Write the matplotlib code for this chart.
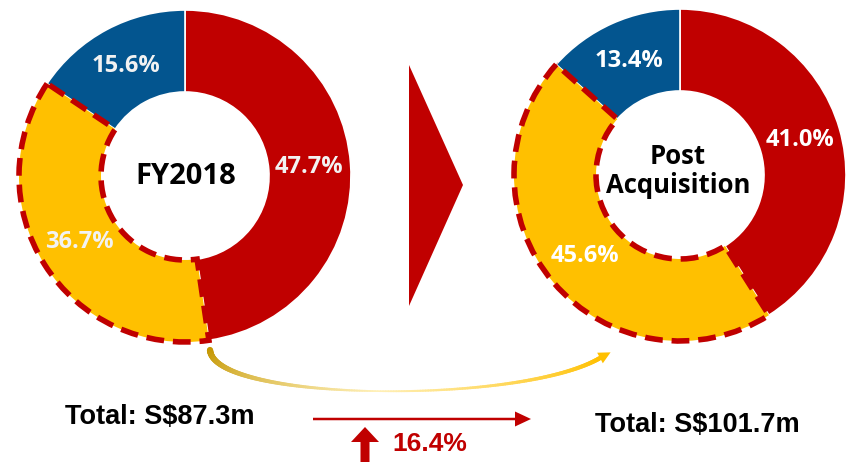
import numpy as np
import matplotlib.pyplot as plt
from matplotlib.patches import Polygon, FancyArrow
from matplotlib.collections import LineCollection
from matplotlib.colors import to_rgb

# --- data ---
segments = ['Segment A', 'Segment B', 'Segment C']
fy2018 = [47.7, 36.7, 15.6]
post_acq = [41.0, 45.6, 13.4]
colors = ['#C00000', '#FFC000', '#03558F']
total_before = 'Total: S$87.3m'
total_after = 'Total: S$101.7m'
growth = '16.4%'

H = 462  # pixel height, y is flipped so pie goes clockwise visually
RED = '#C00000'
pct_font = ['Open Sans', 'DejaVu Sans']

fig = plt.figure(figsize=(8.5, 4.62), dpi=100)
ax = fig.add_axes([0, 0, 1, 1])


def donut(vals, cx, cy, label_col):
    wedges, _, autotexts = ax.pie(
        vals, center=(cx, H - cy), radius=166, startangle=90, counterclock=False,
        colors=colors, autopct='%1.1f%%', pctdistance=0.75,
        wedgeprops=dict(width=82, edgecolor='white', linewidth=1.2),
        textprops=dict(color=label_col, fontsize=17, fontweight='bold', family=pct_font))
    # dashed outline round the yellow part
    wedges[1].set_edgecolor(RED)
    wedges[1].set_linewidth(4.0)
    wedges[1].set_linestyle((0, (3.2, 1.6)))
    wedges[1].set_zorder(5)
    for t in autotexts:
        t.set_zorder(6)
    return wedges


donut(fy2018, 185, 176, '#F2F2F2')
donut(post_acq, 680, 175, 'white')

ax.text(186, H - 177, 'FY2018', ha='center', va='center', fontsize=21,
        fontweight='bold', family=pct_font, color='black')
ax.text(678, H - 171, 'Post\nAcquisition', ha='center', va='center', fontsize=18.5,
        fontweight='bold', family=pct_font, color='black', linespacing=1.1)

# big chevron between the donuts
ax.add_patch(Polygon([(409, H - 65), (409, H - 306), (463, H - 185)],
                     closed=True, color=RED, lw=0))

# curved gradient arrow under the donuts
t = np.linspace(0, 1, 200)
P0, P1, P2, P3 = np.array([210, 350]), np.array([214, 402]), np.array([520, 405]), np.array([600, 358])
pts = ((1 - t) ** 3)[:, None] * P0 + (3 * (1 - t) ** 2 * t)[:, None] * P1 \
    + (3 * (1 - t) * t ** 2)[:, None] * P2 + (t ** 3)[:, None] * P3
pts[:, 1] = H - pts[:, 1]
segs = np.stack([pts[:-1], pts[1:]], axis=1)
c0, c1, c2 = np.array(to_rgb('#C49600')), np.array(to_rgb('#FFF0B8')), np.array(to_rgb('#FFC000'))
tm = t[:-1]
cols = np.where(tm[:, None] < 0.5, c0 + (c1 - c0) * (tm[:, None] / 0.5),
                c1 + (c2 - c1) * ((tm[:, None] - 0.5) / 0.5))
widths = np.where(tm < 0.5, 4.5 - 3.3 * tm / 0.5, 1.2 + 2.0 * (tm - 0.5) / 0.5)
ax.add_collection(LineCollection(segs, colors=cols, linewidths=widths, capstyle='round'))
d = pts[-1] - pts[-6]
d = d / np.hypot(*d)
n = np.array([-d[1], d[0]])
tip = pts[-1] + d * 12
ax.add_patch(Polygon([tip, pts[-1] + n * 6, pts[-1] - n * 6], closed=True,
                     color='#FFC000', lw=0))

# totals and growth
ax.text(160, H - 417, total_before, ha='center', va='center', fontsize=19.5,
        fontweight='bold', family='Liberation Sans', color='black')
ax.text(697, H - 425, total_after, ha='center', va='center', fontsize=19.5,
        fontweight='bold', family='Liberation Sans', color='black')
ax.add_patch(FancyArrow(313, H - 419, 202, 0, width=2.5, head_width=15, head_length=16,
                        length_includes_head=False, color=RED, lw=0))
ax.add_patch(FancyArrow(365, H - 462, 0, 20, width=9, head_width=28, head_length=15,
                        length_includes_head=False, color=RED, lw=0))
ax.text(392, H - 444, growth, ha='left', va='center', fontsize=19,
        fontweight='bold', family='Liberation Sans', color=RED)

ax.set_xlim(0, 850)
ax.set_ylim(0, H)
ax.set_aspect('equal')
ax.axis('off')

fig.savefig('out.png', dpi=100)
